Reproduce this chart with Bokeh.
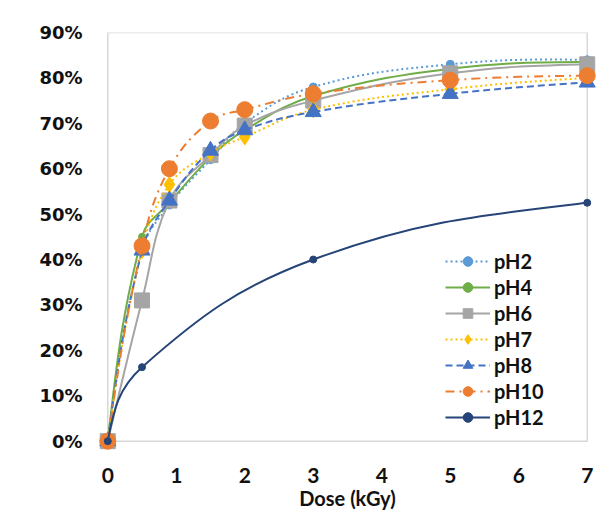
import math
from bokeh.plotting import figure
from bokeh.models import (Range1d, FixedTicker, PrintfTickFormatter, BoxAnnotation,
                          Legend, LegendItem, ColumnDataSource, Label)
from bokeh.embed import file_html
from bokeh.resources import INLINE

# ---- data ----
doses = [0, 0.5, 0.9, 1.5, 2, 3, 5, 7]
ph2 = [0, 42, 52, 62, 70, 78, 83, 84]
ph4 = [0, 45, 52.5, 62.5, 68.5, 76, 82, 83.5]
ph6 = [0, 31, 53, 63, 69.5, 75, 81, 83]
ph7 = [0, 42, 56.5, 63.5, 67, 73, 77.5, 80]
ph8 = [0, 42, 53, 64, 68.5, 72.5, 76.5, 79]
ph10 = [0, 43, 60, 70.5, 73, 76.5, 79.5, 80.5]
doses12 = [0, 0.5, 3, 7]
ph12 = [0, 16.3, 40, 52.5]

x_ticks = [0, 1, 2, 3, 4, 5, 6, 7]
y_ticks = [0, 10, 20, 30, 40, 50, 60, 70, 80, 90]
series_names = ["pH2", "pH4", "pH6", "pH7", "pH8", "pH10", "pH12"]

W, H = 605, 513
ML, MR, MT, MB = 97, 8, 32, 61
XR = (-0.15, 7.15)
YR = (-2.5, 90)

p = figure(width=W, height=H, output_backend="svg", toolbar_location=None,
           x_range=Range1d(*XR), y_range=Range1d(*YR),
           min_border_left=ML, min_border_right=MR, min_border_top=MT, min_border_bottom=MB)
p.outline_line_color = None
p.xgrid.visible = False
p.ygrid.visible = False
p.background_fill_color = "white"
p.border_fill_color = "white"

# pixel scale of the frame (used only to smooth the lines like a spreadsheet does)
SX = (W - ML - MR) / (XR[1] - XR[0])
SY = (H - MT - MB) / (YR[1] - YR[0])

# frame box around the 0..7 x 0..90% area
p.add_layout(BoxAnnotation(left=x_ticks[0], right=x_ticks[-1], bottom=y_ticks[0], top=y_ticks[-1],
                           fill_alpha=0, line_color="#7f7f7f", line_width=1.5, level="underlay"))

for ax in (p.xaxis[0], p.yaxis[0]):
    ax.axis_line_color = None
    ax.major_tick_line_color = None
    ax.minor_tick_line_color = None
    ax.major_tick_out = 0
    ax.major_tick_in = 0

p.xaxis.ticker = FixedTicker(ticks=x_ticks)
p.yaxis.ticker = FixedTicker(ticks=y_ticks)
p.yaxis.formatter = PrintfTickFormatter(format="%d%%")

p.yaxis.major_label_text_font = "DejaVu Sans"
p.yaxis.major_label_text_font_style = "bold"
p.yaxis.major_label_text_font_size = "18px"
p.yaxis.major_label_text_color = "#111111"
p.yaxis.major_label_standoff = 15

p.xaxis.major_label_text_font = "Lato"
p.xaxis.major_label_text_font_style = "bold"
p.xaxis.major_label_text_font_size = "21px"
p.xaxis.major_label_text_color = "#111111"
p.xaxis.major_label_standoff = 15

p.xaxis.axis_label = "Dose (kGy)"
p.xaxis.axis_label_text_font = "Lato"
p.xaxis.axis_label_text_font_style = "bold"
p.xaxis.axis_label_text_font_size = "20px"
p.xaxis.axis_label_text_color = "#111111"
p.xaxis.axis_label_standoff = 0

# y-axis title placed as in the original (slightly above the frame centre)
p.add_layout(Label(x=-72, y=222, x_units="screen", y_units="screen", angle=math.pi / 2,
                   text="Removal Efficiency", text_align="center", text_baseline="middle",
                   text_font="Lato", text_font_style="bold", text_font_size="22px",
                   text_color="#111111"))


def smooth_parts(xs, ys, k=0.4, blend=0.6):
    """Bezier pieces through the data points (chord-weighted tangents, mirrored ends)."""
    P = [(x * SX, y * SY) for x, y in zip(xs, ys)]
    n = len(P)
    d = [math.hypot(P[i + 1][0] - P[i][0], P[i + 1][1] - P[i][1]) for i in range(n - 1)]
    c1 = [None] * (n - 1)
    c2 = [None] * (n - 1)
    for i in range(n - 1):
        if i > 0:
            f = k * d[i] / (d[i - 1] + d[i])
            tx, ty = P[i + 1][0] - P[i - 1][0], P[i + 1][1] - P[i - 1][1]
            c1[i] = (P[i][0] + f * tx, P[i][1] + f * ty)
        if i + 2 < n:
            f = k * d[i] / (d[i] + d[i + 1])
            tx, ty = P[i + 2][0] - P[i][0], P[i + 2][1] - P[i][1]
            c2[i] = (P[i + 1][0] - f * tx, P[i + 1][1] - f * ty)

    def end_vec(u, a, b):
        # mirror u about the chord's perpendicular, then lean it toward the chord
        ex, ey = b[0] - a[0], b[1] - a[1]
        L = math.hypot(ex, ey)
        ex, ey = ex / L, ey / L
        dot = u[0] * ex + u[1] * ey
        mx, my = u[0] - 2 * dot * ex, u[1] - 2 * dot * ey
        mag = math.hypot(mx, my)
        sgn = 1 if (mx * ex + my * ey) > 0 else -1
        vx = blend * mx / mag + (1 - blend) * sgn * ex
        vy = blend * my / mag + (1 - blend) * sgn * ey
        vm = math.hypot(vx, vy)
        return (vx / vm * mag, vy / vm * mag)

    if c2[0] is not None:
        u = (c2[0][0] - P[1][0], c2[0][1] - P[1][1])
        m = end_vec(u, P[0], P[1])
        c1[0] = (P[0][0] + m[0], P[0][1] + m[1])
    else:
        c1[0] = (P[0][0] + (P[1][0] - P[0][0]) / 3, P[0][1] + (P[1][1] - P[0][1]) / 3)
    j = n - 2
    if c2[j] is None:
        u = (c1[j][0] - P[j][0], c1[j][1] - P[j][1])
        m = end_vec(u, P[j], P[j + 1])
        c2[j] = (P[j + 1][0] + m[0], P[j + 1][1] + m[1])

    out = dict(x0=xs[:-1], y0=ys[:-1], x1=xs[1:], y1=ys[1:],
               cx0=[c[0] / SX for c in c1], cy0=[c[1] / SY for c in c1],
               cx1=[c[0] / SX for c in c2], cy1=[c[1] / SY for c in c2])
    return ColumnDataSource(out)


styles = [
    (doses, ph2, "#5B9BD5", "2 3", "circle", 8),
    (doses, ph4, "#70AD47", "solid", "circle", 7),
    (doses, ph6, "#A5A5A5", "solid", "square", 15),
    (doses, ph7, "#FFC000", "2 3", "diamond", 16),
    (doses, ph8, "#4472C4", "7 4", "triangle", 16),
    (doses, ph10, "#ED7D31", "9 5 2 5", "circle", 16),
    (doses12, ph12, "#264478", "solid", "circle", 7),
]

items = []
for name, (xs, ys, color, dash, marker, size) in zip(series_names, styles):
    br = p.bezier(x0="x0", y0="y0", x1="x1", y1="y1", cx0="cx0", cy0="cy0", cx1="cx1", cy1="cy1",
                  source=smooth_parts(xs, ys), line_color=color, line_width=2, line_dash=dash)
    sr = p.scatter(xs, ys, marker=marker, size=size, fill_color=color, line_color=color)
    items.append(LegendItem(label=name, renderers=[br, sr]))

legend = Legend(items=items, location=(348, 23), border_line_color=None,
                background_fill_alpha=0, padding=0, margin=0, spacing=2,
                glyph_width=45, glyph_height=24, label_height=24, label_standoff=4,
                label_text_font="Lato", label_text_font_style="bold",
                label_text_font_size="20px", label_text_color="#111111")
p.add_layout(legend)

open("out.html", "w").write(file_html(p, INLINE))
